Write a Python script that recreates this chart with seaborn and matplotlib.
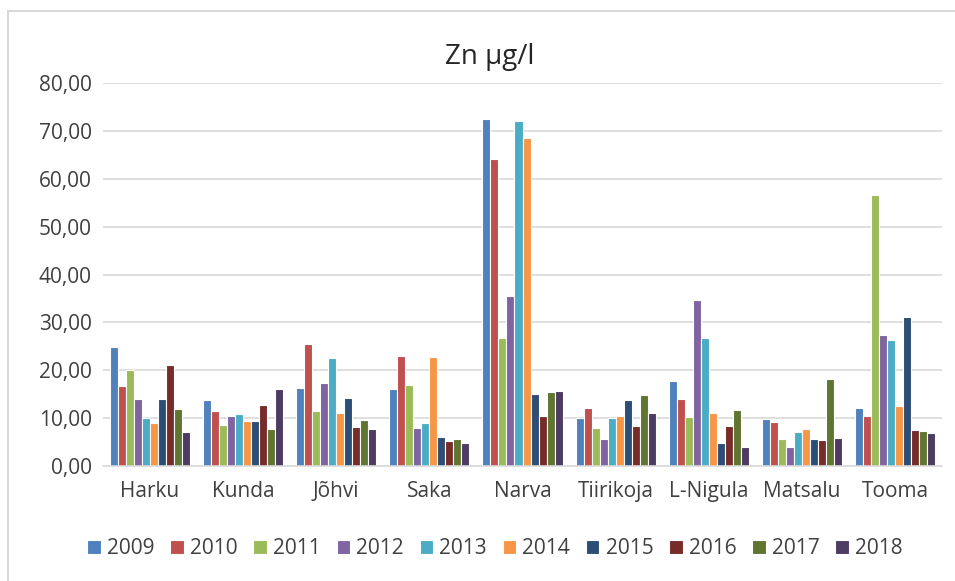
import numpy as np
import pandas as pd
import matplotlib
matplotlib.use('Agg')
import matplotlib.pyplot as plt
import seaborn as sns
from matplotlib.ticker import FuncFormatter
from matplotlib.patches import Rectangle

# andmed
stations = ['Harku', 'Kunda', 'Jõhvi', 'Saka', 'Narva', 'Tiirikoja', 'L-Nigula', 'Matsalu', 'Tooma']
years = ['2009', '2010', '2011', '2012', '2013', '2014', '2015', '2016', '2017', '2018']

harku = [24.8, 16.8, 20.0, 14.0, 10.0, 8.9, 14.0, 21.0, 11.9, 7.0]
kunda = [13.8, 11.4, 8.5, 10.4, 10.8, 9.3, 9.3, 12.7, 7.7, 16.1]
johvi = [16.3, 25.4, 11.5, 17.4, 22.5, 11.1, 14.1, 8.2, 9.6, 7.7]
saka = [16.0, 23.0, 17.0, 7.9, 9.0, 22.7, 6.1, 5.3, 5.6, 4.8]
narva = [72.5, 64.2, 26.7, 35.6, 72.0, 68.5, 15.0, 10.4, 15.4, 15.7]
tiirikoja = [10.0, 12.1, 8.0, 5.6, 10.0, 10.4, 13.7, 8.3, 14.8, 11.0]
lnigula = [17.8, 14.0, 10.2, 34.7, 26.8, 11.0, 4.8, 8.3, 11.8, 3.9]
matsalu = [9.9, 9.1, 5.6, 4.0, 7.0, 7.8, 5.6, 5.4, 18.2, 5.9]
tooma = [12.1, 10.5, 56.6, 27.3, 26.3, 12.6, 31.2, 7.5, 7.3, 6.9]

colors = ['#4F81BD', '#C0504D', '#9BBB59', '#8064A2', '#4BACC6',
          '#F79646', '#2C4D75', '#772C2A', '#5F7530', '#4D3B62']

values = [harku, kunda, johvi, saka, narva, tiirikoja, lnigula, matsalu, tooma]
rows = []
for st, vals in zip(stations, values):
    for yr, v in zip(years, vals):
        rows.append({'jaam': st, 'aasta': yr, 'Zn': v})
df = pd.DataFrame(rows)

sns.set_style('white')
plt.rcParams['font.family'] = ['Open Sans', 'DejaVu Sans']

fig = plt.figure(figsize=(9.55, 5.81), dpi=100)
ax = fig.add_axes([103 / 955, 1 - 466 / 581, (942 - 103) / 955, (466 - 83) / 581])

sns.barplot(data=df, x='jaam', y='Zn', hue='aasta', hue_order=years, order=stations,
            palette=colors, width=0.86, edgecolor='white', linewidth=0.8,
            saturation=1, ax=ax, legend=True)

ax.set_ylim(0, 80)
ax.set_yticks(np.arange(0, 81, 10))
ax.yaxis.set_major_formatter(FuncFormatter(lambda v, p: f'{v:.2f}'.replace('.', ',')))
ax.yaxis.grid(True, color='#D9D9D9', linewidth=1.2)
ax.set_axisbelow(True)
for s in ['top', 'right', 'left']:
    ax.spines[s].set_visible(False)
ax.spines['bottom'].set_color('#D9D9D9')
ax.spines['bottom'].set_linewidth(1.2)
ax.tick_params(axis='both', length=0, labelsize=15, colors='#404040')
ax.tick_params(axis='x', pad=11)
ax.tick_params(axis='y', pad=8)
ax.set_xlabel('')
ax.set_ylabel('')

fig.text(490 / 955, 1 - 57 / 581, 'Zn µg/l', ha='center', va='center', fontsize=20, color='#262626')

handles, labels = ax.get_legend_handles_labels()
ax.get_legend().remove()
fig.legend(handles, labels, loc='center', bbox_to_anchor=(495 / 955, 1 - 549 / 581),
           ncol=10, frameon=False, fontsize=15, handlelength=0.65, handleheight=0.65,
           handletextpad=0.3, columnspacing=0.75, labelcolor='#404040')

# ümbritsev raam
fig.patches.append(Rectangle((8 / 955, -0.05), 1.1, 1 - 11 / 581 + 0.05, transform=fig.transFigure,
                             fill=False, edgecolor='#D9D9D9', linewidth=1.5))

fig.savefig('out.png', dpi=100)
